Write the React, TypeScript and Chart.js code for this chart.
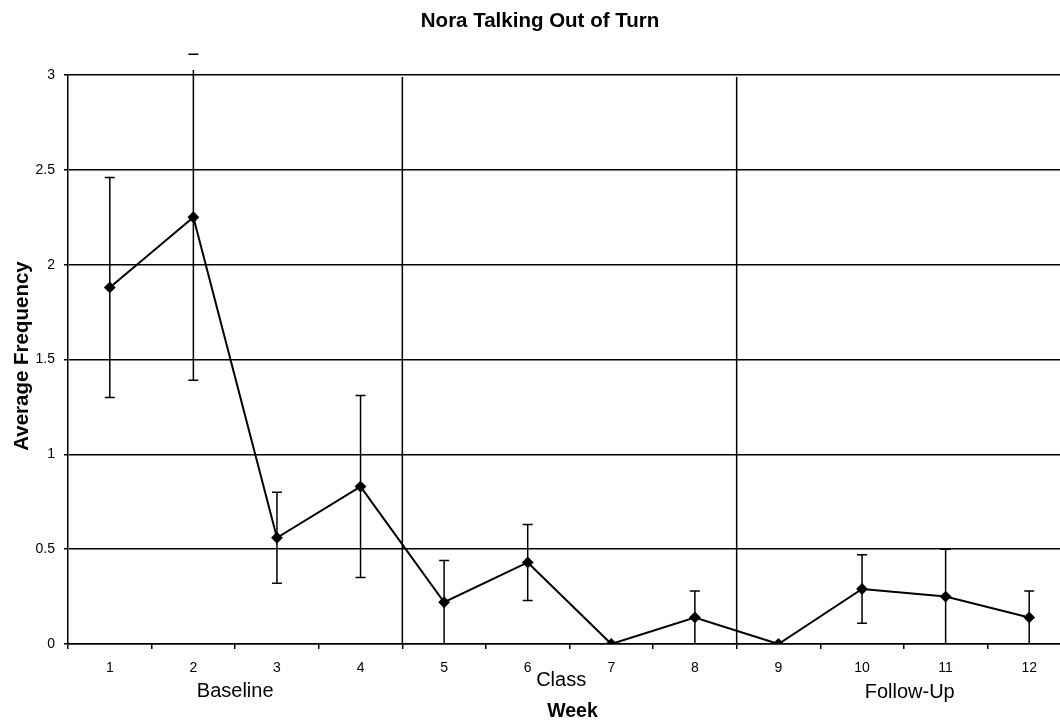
import React, { useEffect, useRef } from "react";
import { Chart, registerables } from "chart.js";

Chart.register(...registerables);

const weeks = ["1", "2", "3", "4", "5", "6", "7", "8", "9", "10", "11", "12"];
const averageFrequency = [1.88, 2.25, 0.56, 0.83, 0.22, 0.43, 0, 0.14, 0, 0.29, 0.25, 0.14];
const errorUpper = [2.46, 3.11, 0.8, 1.31, 0.44, 0.63, 0, 0.28, 0, 0.47, 0.5, 0.28];
const errorLower = [1.3, 1.39, 0.32, 0.35, 0, 0.23, 0, 0, 0, 0.11, 0, 0];
const phaseBoundaries = [3.5, 7.5];
const phaseLabels = ["Baseline", "Class", "Follow-Up"];
const phaseLabelPositions = [1.5, 5.4, 9.57];
const phaseLabelOffsets = [47, 36, 48];

const FONT = '"Liberation Sans", Arial, sans-serif';

const overlayPlugin = {
  id: "overlay",
  afterDatasetsDraw(chart: any) {
    const { ctx, chartArea, scales } = chart;
    const x = scales.x;
    const y = scales.y;
    ctx.save();
    ctx.strokeStyle = "#000";
    ctx.lineWidth = 1.5;
    phaseBoundaries.forEach((b) => {
      const px = x.getPixelForValue(b);
      ctx.beginPath();
      ctx.moveTo(px, chartArea.top + 2);
      ctx.lineTo(px, chartArea.bottom);
      ctx.stroke();
    });
    const cap = 5;
    averageFrequency.forEach((v, i) => {
      const hi = errorUpper[i];
      const lo = errorLower[i];
      if (hi === lo) return;
      const px = x.getPixelForValue(i);
      const pHi = y.getPixelForValue(hi);
      const pLo = y.getPixelForValue(lo);
      const lineTop = hi > y.max ? chartArea.top - 5 : pHi;
      ctx.beginPath();
      ctx.moveTo(px, pLo);
      ctx.lineTo(px, lineTop);
      ctx.moveTo(px - cap, pHi);
      ctx.lineTo(px + cap, pHi);
      if (lo > 0) {
        ctx.moveTo(px - cap, pLo);
        ctx.lineTo(px + cap, pLo);
      }
      ctx.stroke();
    });
    ctx.restore();
  },
  afterDraw(chart: any) {
    const { ctx, chartArea, scales } = chart;
    const x = scales.x;
    ctx.save();
    ctx.fillStyle = "#000";
    ctx.textAlign = "center";
    ctx.textBaseline = "middle";
    ctx.font = `bold 20.5px ${FONT}`;
    ctx.fillText("Nora Talking Out of Turn", chart.width / 2, 21);
    ctx.save();
    ctx.translate(22, 356);
    ctx.rotate(-Math.PI / 2);
    ctx.font = `bold 20.5px ${FONT}`;
    ctx.fillText("Average Frequency", 0, 0);
    ctx.restore();
    ctx.font = `20px ${FONT}`;
    phaseLabels.forEach((t, i) => {
      ctx.fillText(t, x.getPixelForValue(phaseLabelPositions[i]), chartArea.bottom + phaseLabelOffsets[i]);
    });
    ctx.font = `bold 19.5px ${FONT}`;
    ctx.fillText("Week", (chartArea.left + chartArea.right) / 2 + 3, chartArea.bottom + 68);
    ctx.restore();
  },
};

export default function App() {
  const ref = useRef<HTMLCanvasElement>(null);
  useEffect(() => {
    document.body.style.margin = "0";
    document.body.style.overflow = "hidden";
    const chart = new Chart(ref.current!, {
      type: "line",
      data: {
        labels: weeks,
        datasets: [
          {
            data: averageFrequency,
            borderColor: "#000",
            backgroundColor: "#000",
            borderWidth: 2,
            pointStyle: "rectRot",
            pointRadius: 4.5,
            pointBackgroundColor: "#000",
            pointBorderColor: "#000",
            tension: 0,
          },
        ],
      },
      options: {
        responsive: false,
        animation: false,
        layout: { padding: { top: 75, right: 9, left: 0, bottom: 0 } },
        plugins: { legend: { display: false }, tooltip: { enabled: false }, title: { display: false } },
        scales: {
          x: {
            offset: true,
            grid: { offset: true, drawOnChartArea: false, drawTicks: true, tickLength: 5, color: "#000", lineWidth: 1.5 },
            border: { color: "#000", width: 1.5 },
            ticks: { color: "#000", font: { family: FONT, size: 14 }, padding: 11, maxRotation: 0 },
            afterFit(scale: any) {
              scale.height = 77;
            },
          },
          y: {
            min: 0,
            max: 3,
            ticks: {
              stepSize: 0.5,
              color: "#000",
              font: { family: FONT, size: 14 },
              padding: 9,
              callback: (v: any) => String(Number(v)),
            },
            grid: { color: "#000", lineWidth: 1.5, tickLength: 4, drawTicks: true },
            border: { color: "#000", width: 1.5 },
            afterFit(scale: any) {
              scale.width = 68;
            },
          },
        },
      },
      plugins: [overlayPlugin],
    });
    return () => chart.destroy();
  }, []);
  return (
    <div style={{ width: 1080, height: 721 }}>
      <canvas ref={ref} width={1080} height={721} style={{ display: "block" }} />
    </div>
  );
}
